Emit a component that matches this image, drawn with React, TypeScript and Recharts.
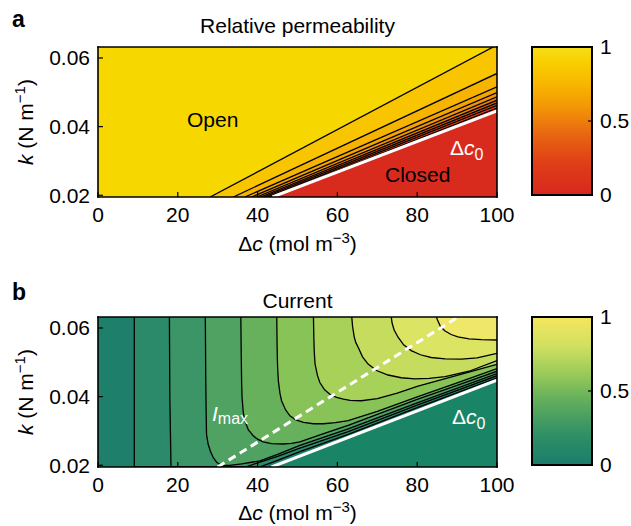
import React from 'react';
import { ComposedChart, Area, Line, XAxis, YAxis, BarChart, Bar } from 'recharts';

const FONT = '"Liberation Sans", Arial, Helvetica, sans-serif';

// ---- axes ----
const K_MIN = 0.0195;
const K_MAX = 0.0632;
const DC_MIN = 0;
const DC_MAX = 100;
const dcTicks = [0, 20, 40, 60, 80, 100];
const kTicks = [0.02, 0.04, 0.06];
const colorbarTicks = [0, 0.5, 1];
const colorbarValue = [{ name: 'bar', v: 1 }];

// ---- panel a: relative permeability (straight contour lines, levels 0.9 .. 0.1) ----
const permLevels = [0.9, 0.8, 0.7, 0.6, 0.5, 0.4, 0.3, 0.2, 0.1];
const permStartDc = [28.1, 33.9, 36.8, 38.5, 39.8, 40.8, 41.6, 42.4, 43.1]; // on bottom edge
const permEndK = [0.0638, 0.0555, 0.0516, 0.0499, 0.0487, 0.0477, 0.0469, 0.0462, 0.0454]; // at Δc = 100
const permClosedLine = [
  [43.7, K_MIN],
  [100, 0.0446],
];
const permOpenColor = '#f7d700';
const permBandColors = ['#f8c500', '#f6b400', '#f4a400', '#f19308', '#ed800c', '#e86a10', '#e35414', '#de4018', '#da321c'];
const permClosedColor = '#d92a1e';

// ---- panel b: current (contour lines, levels 0.1 .. 0.9) ----
const currentLevels = [0.1, 0.2, 0.3, 0.4, 0.5, 0.6, 0.7, 0.8, 0.9];
const currentL1 = [[9.1, K_MAX], [9.1, K_MIN], [40.5, K_MIN], [45, 0.0214], [50.6, 0.024], [62.7, 0.029], [80, 0.0368], [100, 0.0455]];
const currentL2 = [[17.9, K_MAX], [18.0, 0.04], [18.3, K_MIN], [37, K_MIN], [40, 0.0207], [45, 0.0226], [50.6, 0.025], [62.7, 0.0298], [80, 0.0375], [100, 0.0461]];
const currentL3 = [[26.9, K_MAX], [27.0, 0.046], [27.1, 0.036], [27.2, 0.029], [27.6, 0.0262], [28.2, 0.024], [28.9, 0.0222], [29.8, 0.0208], [31.0, 0.02], [33, 0.02], [36, 0.0204], [40.6, 0.0213], [45, 0.0232], [50.6, 0.0258], [62.7, 0.0306], [80, 0.0382], [100, 0.0467]];
const currentL4 = [[35.8, K_MAX], [35.9, 0.052], [36.0, 0.044], [36.1, 0.0398], [36.4, 0.0355], [36.8, 0.0329], [37.7, 0.0303], [38.9, 0.0286], [40.0, 0.0276], [41.4, 0.0268], [43.5, 0.0263], [46.4, 0.0262], [48.5, 0.0264], [50.6, 0.0268], [56, 0.029], [62.7, 0.0316], [70, 0.0348], [80, 0.0392], [90, 0.0433], [100, 0.0474]];
const currentL5 = [[44.8, K_MAX], [44.9, 0.054], [45.0, 0.049], [45.2, 0.0446], [45.6, 0.041], [46.0, 0.0388], [47.0, 0.0362], [48.1, 0.0344], [49.6, 0.0332], [51.5, 0.0325], [54, 0.0321], [56.5, 0.0321], [59.5, 0.0324], [62.7, 0.033], [70, 0.0357], [80, 0.0399], [90, 0.044], [100, 0.0482]];
const currentL6 = [[54.0, K_MAX], [54.1, 0.057], [54.2, 0.053], [54.4, 0.0495], [55.0, 0.0462], [55.6, 0.0441], [56.8, 0.042], [58.1, 0.0407], [59.8, 0.0398], [61.5, 0.0393], [63.2, 0.0389], [66, 0.0388], [70, 0.0394], [75, 0.041], [80, 0.043], [90, 0.0462], [100, 0.0494]];
const currentL7 = [[63.6, K_MAX], [63.8, 0.0605], [64.2, 0.0575], [64.6, 0.0558], [65.2, 0.0544], [66.3, 0.0516], [67.7, 0.0495], [69.8, 0.0476], [72.7, 0.0463], [76, 0.0455], [79.4, 0.0452], [83, 0.0453], [87, 0.0458], [93, 0.0474], [100, 0.0505]];
const currentL8 = [[73.5, K_MAX], [73.7, 0.0615], [74.2, 0.0595], [75.2, 0.0573], [76.6, 0.0551], [78.5, 0.0534], [80.8, 0.0522], [83.5, 0.0514], [87, 0.051], [91.1, 0.0509], [95, 0.0513], [100, 0.0526]];
const currentL9 = [[84.8, K_MAX], [85.2, 0.062], [85.8, 0.0605], [86.9, 0.0592], [88.5, 0.0581], [90.2, 0.0574], [93, 0.0568], [96.1, 0.0566], [100, 0.0565]];
const currentLines = [currentL1, currentL2, currentL3, currentL4, currentL5, currentL6, currentL7, currentL8, currentL9];
const currentClosedLine = [
  [43.5, K_MIN],
  [100, 0.0448],
];
const currentMaxLine = [
  [30.0, K_MIN],
  [90.3, K_MAX],
];
const currentBaseColor = '#1e7f6a';
const currentBandColors = ['#2b8a69', '#3b9566', '#4fa262', '#68b15c', '#88c358', '#a8d15a', '#c5dc5e', '#dce463', '#efe769'];
const currentClosedColor = '#1a8466';

// ---- helpers to build tables for the library ----
type Pt = number[];
const toPoints = (pts: Pt[]) => pts.map(([dc, k]) => ({ dc, k }));
const toRangeAbove = (pts: Pt[]) => pts.map(([dc, k]) => ({ dc, range: [k, K_MAX] }));
const toRangeBelow = (pts: Pt[]) => pts.map(([dc, k]) => ({ dc, range: [K_MIN, k] }));
const fullRect = toRangeBelow([
  [DC_MIN, K_MAX],
  [DC_MAX, K_MAX],
]);
const permLines: Pt[][] = permStartDc.map((dc, i) => [
  [dc, K_MIN],
  [DC_MAX, permEndK[i]],
]);

const tickStyle = { fontSize: 21, fill: '#000', fontFamily: FONT };
const tickLineStyle = { stroke: '#000', strokeWidth: 1.2 };
const axisLineStyle = { stroke: '#000', strokeWidth: 1.6, strokeLinecap: 'square' as const };

function frameAxes() {
  return [
    <XAxis
      key="xb"
      dataKey="dc"
      type="number"
      domain={[DC_MIN, DC_MAX]}
      ticks={dcTicks}
      interval={0}
      allowDataOverflow
      height={1}
      tickSize={-5}
      tickMargin={15}
      tick={tickStyle}
      tickLine={tickLineStyle}
      axisLine={axisLineStyle}
    />,
    <XAxis
      key="xt"
      xAxisId="top"
      orientation="top"
      type="number"
      domain={[DC_MIN, DC_MAX]}
      ticks={dcTicks}
      interval={0}
      allowDataOverflow
      height={1}
      tickSize={-5}
      tick={false}
      tickLine={tickLineStyle}
      axisLine={axisLineStyle}
    />,
    <YAxis
      key="yl"
      type="number"
      domain={[K_MIN, K_MAX]}
      ticks={kTicks}
      interval={0}
      allowDataOverflow
      width={1}
      tickSize={-5}
      tickMargin={13}
      tick={tickStyle}
      tickFormatter={(v: number) => v.toFixed(2)}
      tickLine={tickLineStyle}
      axisLine={axisLineStyle}
    />,
    <YAxis
      key="yr"
      yAxisId="right"
      orientation="right"
      type="number"
      domain={[K_MIN, K_MAX]}
      ticks={kTicks}
      interval={0}
      allowDataOverflow
      width={1}
      tickSize={-5}
      tick={false}
      tickLine={tickLineStyle}
      axisLine={axisLineStyle}
    />,
  ];
}

function PermChart() {
  return (
    <ComposedChart width={520} height={260} margin={{ top: 46, right: 22, bottom: 62, left: 97 }}>
      <Area data={fullRect} dataKey="range" type="linear" fill={permOpenColor} fillOpacity={1} stroke="none" isAnimationActive={false} />
      {permLines.map((pts, i) => (
        <Area
          key={'pa' + permLevels[i]}
          data={toRangeBelow(pts)}
          dataKey="range"
          type="linear"
          fill={permBandColors[i]}
          fillOpacity={1}
          stroke="none"
          isAnimationActive={false}
        />
      ))}
      <Area data={toRangeBelow(permClosedLine)} dataKey="range" type="linear" fill={permClosedColor} fillOpacity={1} stroke="none" isAnimationActive={false} />
      {permLines.map((pts, i) => (
        <Line
          key={'pl' + permLevels[i]}
          data={toPoints(pts)}
          dataKey="k"
          type="linear"
          stroke="#000"
          strokeWidth={1.3}
          dot={false}
          activeDot={false}
          isAnimationActive={false}
        />
      ))}
      <Line data={toPoints(permClosedLine)} dataKey="k" type="linear" stroke="#fff" strokeWidth={3} dot={false} activeDot={false} isAnimationActive={false} />
      {frameAxes()}
    </ComposedChart>
  );
}

function CurrentChart() {
  return (
    <ComposedChart width={520} height={256} margin={{ top: 46, right: 22, bottom: 58, left: 97 }}>
      <Area data={fullRect} dataKey="range" type="linear" fill={currentBaseColor} fillOpacity={1} stroke="none" isAnimationActive={false} />
      {currentLines.map((pts, i) => (
        <Area
          key={'ca' + currentLevels[i]}
          data={toRangeAbove(pts)}
          dataKey="range"
          type="linear"
          fill={currentBandColors[i]}
          fillOpacity={1}
          stroke="none"
          isAnimationActive={false}
        />
      ))}
      <Area data={toRangeBelow(currentClosedLine)} dataKey="range" type="linear" fill={currentClosedColor} fillOpacity={1} stroke="none" isAnimationActive={false} />
      {currentLines.map((pts, i) => (
        <Line
          key={'cl' + currentLevels[i]}
          data={toPoints(pts)}
          dataKey="k"
          type="linear"
          stroke="#000"
          strokeWidth={1.3}
          dot={false}
          activeDot={false}
          isAnimationActive={false}
        />
      ))}
      <Line data={toPoints(currentClosedLine)} dataKey="k" type="linear" stroke="#fff" strokeWidth={3} dot={false} activeDot={false} isAnimationActive={false} />
      <Line
        data={toPoints(currentMaxLine)}
        dataKey="k"
        type="linear"
        stroke="#fff"
        strokeWidth={3}
        strokeDasharray="8 5"
        dot={false}
        activeDot={false}
        isAnimationActive={false}
      />
      {frameAxes()}
    </ComposedChart>
  );
}

function ColorBar({ gradId, height, bottom }: { gradId: string; height: number; bottom: number }) {
  return (
    <BarChart width={111} height={height} data={colorbarValue} margin={{ top: 47, right: 38, bottom, left: 12 }} barCategoryGap={0}>
      <XAxis dataKey="name" hide />
      <YAxis
        orientation="right"
        type="number"
        domain={[0, 1]}
        ticks={colorbarTicks}
        interval={0}
        width={1}
        tickSize={-4}
        tickMargin={12}
        tick={tickStyle}
        tickLine={tickLineStyle}
        axisLine={false}
        tickFormatter={(v: number) => String(v)}
      />
      <Bar dataKey="v" fill={`url(#${gradId})`} stroke="#000" strokeWidth={2} isAnimationActive={false} />
    </BarChart>
  );
}

const textBase = { fontFamily: FONT, fontSize: 21, fill: '#000' };

function DcLabel({ y }: { y: number }) {
  return (
    <text x={297.5} y={y} textAnchor="middle" style={textBase}>
      <tspan>Δ</tspan>
      <tspan fontStyle="italic">c</tspan>
      <tspan> (mol m</tspan>
      <tspan dy={-8} fontSize={15}>−3</tspan>
      <tspan dy={8}>)</tspan>
    </text>
  );
}

function KLabel({ cy }: { cy: number }) {
  return (
    <text x={33} y={cy} textAnchor="middle" transform={`rotate(-90 33 ${cy})`} style={textBase}>
      <tspan fontStyle="italic">k</tspan>
      <tspan> (N m</tspan>
      <tspan dy={-8} fontSize={15}>−1</tspan>
      <tspan dy={8}>)</tspan>
    </text>
  );
}

function Dc0({ x, y }: { x: number; y: number }) {
  return (
    <text x={x} y={y} style={{ ...textBase, fill: '#fff' }}>
      <tspan>Δ</tspan>
      <tspan fontStyle="italic">c</tspan>
      <tspan dy={5} fontSize={16}>0</tspan>
    </text>
  );
}

export default function App() {
  return (
    <div style={{ position: 'absolute', left: 0, top: 0, width: 631, height: 526, background: '#fff', overflow: 'hidden' }}>
      <svg width={0} height={0} style={{ position: 'absolute' }}>
        <defs>
          <linearGradient id="gradA" x1="0" y1="1" x2="0" y2="0">
            <stop offset="0" stopColor="#d8281f" />
            <stop offset="0.2" stopColor="#df3c18" />
            <stop offset="0.4" stopColor="#e86412" />
            <stop offset="0.5" stopColor="#ee7e0c" />
            <stop offset="0.6" stopColor="#f39806" />
            <stop offset="0.75" stopColor="#f8b600" />
            <stop offset="0.9" stopColor="#f8cf00" />
            <stop offset="1" stopColor="#f6df1a" />
          </linearGradient>
          <linearGradient id="gradB" x1="0" y1="1" x2="0" y2="0">
            <stop offset="0" stopColor="#1a7d6a" />
            <stop offset="0.2" stopColor="#2f8f66" />
            <stop offset="0.4" stopColor="#5aa95e" />
            <stop offset="0.5" stopColor="#74b85a" />
            <stop offset="0.6" stopColor="#95c858" />
            <stop offset="0.8" stopColor="#cfe060" />
            <stop offset="1" stopColor="#f6e65e" />
          </linearGradient>
        </defs>
      </svg>
      <div style={{ position: 'absolute', left: 0, top: 0 }}>
        <PermChart />
      </div>
      <div style={{ position: 'absolute', left: 520, top: 0 }}>
        <ColorBar gradId="gradA" height={260} bottom={65} />
      </div>
      <div style={{ position: 'absolute', left: 0, top: 270 }}>
        <CurrentChart />
      </div>
      <div style={{ position: 'absolute', left: 520, top: 270 }}>
        <ColorBar gradId="gradB" height={256} bottom={61} />
      </div>
      <svg width={631} height={526} style={{ position: 'absolute', left: 0, top: 0, pointerEvents: 'none' }}>
        <text x={12} y={27} style={{ ...textBase, fontSize: 23, fontWeight: 'bold' }}>a</text>
        <text x={297.5} y={33} textAnchor="middle" style={textBase}>Relative permeability</text>
        <DcLabel y={251} />
        <KLabel cy={122} />
        <text x={187} y={127} style={textBase}>Open</text>
        <text x={385} y={182} style={textBase}>Closed</text>
        <Dc0 x={450} y={155} />

        <text x={12} y={300} style={{ ...textBase, fontSize: 23, fontWeight: 'bold' }}>b</text>
        <text x={297.5} y={308} textAnchor="middle" style={textBase}>Current</text>
        <DcLabel y={520} />
        <KLabel cy={392} />
        <Dc0 x={452} y={424} />
        <text x={212} y={421} style={{ ...textBase, fill: '#fff' }}>
          <tspan fontStyle="italic">I</tspan>
          <tspan dy={3} fontSize={16}>max</tspan>
        </text>
      </svg>
    </div>
  );
}
